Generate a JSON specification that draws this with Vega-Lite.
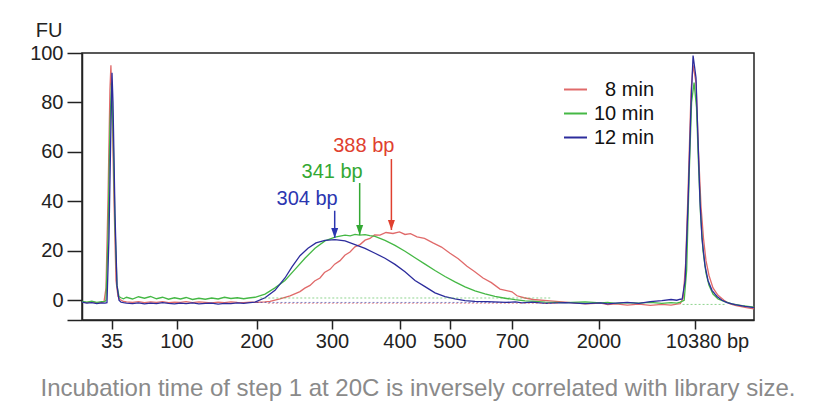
{
  "$schema": "https://vega.github.io/schema/vega-lite/v6.json",
  "width": 672,
  "height": 267,
  "autosize": "none",
  "padding": {"left": 82, "top": 53, "right": 76, "bottom": 97},
  "background": "white",
  "config": {
    "font": "Liberation Sans",
    "view": {"stroke": "#222", "strokeWidth": 1.5},
    "axis": {
      "labelFont": "Liberation Sans",
      "labelFontSize": 20,
      "labelColor": "#222",
      "tickColor": "#222",
      "tickWidth": 1.5,
      "domainColor": "#222",
      "domainWidth": 1.5,
      "grid": false
    }
  },
  "title": {
    "text": "Incubation time of step 1 at 20C is inversely correlated with library size.",
    "orient": "bottom",
    "anchor": "middle",
    "fontSize": 24,
    "fontWeight": "normal",
    "color": "#8a8a8a",
    "font": "Liberation Sans",
    "offset": 26
  },
  "resolve": {"scale": {"color": "independent"}},
  "datasets": {
    "traces": [
      {"s":"8 min","bp":20,"fu":-0.8},{"s":"8 min","bp":22.5,"fu":-1.0},{"s":"8 min","bp":25,"fu":-0.7},{"s":"8 min","bp":27.5,"fu":-1.1},{"s":"8 min","bp":30,"fu":-0.9},
      {"s":"8 min","bp":31.2,"fu":-0.6},{"s":"8 min","bp":32.2,"fu":5},{"s":"8 min","bp":33.2,"fu":40},{"s":"8 min","bp":34.2,"fu":85},{"s":"8 min","bp":34.7,"fu":95},{"s":"8 min","bp":35.5,"fu":80},{"s":"8 min","bp":37.5,"fu":40},{"s":"8 min","bp":39.5,"fu":8},{"s":"8 min","bp":41.5,"fu":1.5},{"s":"8 min","bp":43.5,"fu":0.3},
      {"s":"8 min","bp":47,"fu":-0.5},{"s":"8 min","bp":50,"fu":-0.7},{"s":"8 min","bp":56,"fu":-0.9},{"s":"8 min","bp":62,"fu":-0.6},{"s":"8 min","bp":68,"fu":-1.0},{"s":"8 min","bp":74,"fu":-0.7},{"s":"8 min","bp":80,"fu":-0.9},{"s":"8 min","bp":86,"fu":-0.6},{"s":"8 min","bp":92,"fu":-1.0},{"s":"8 min","bp":98,"fu":-0.8},{"s":"8 min","bp":105,"fu":-0.9},{"s":"8 min","bp":112,"fu":-0.6},{"s":"8 min","bp":120,"fu":-1.0},{"s":"8 min","bp":128,"fu":-0.7},{"s":"8 min","bp":136,"fu":-0.9},{"s":"8 min","bp":144,"fu":-1.1},{"s":"8 min","bp":152,"fu":-0.8},{"s":"8 min","bp":160,"fu":-1.0},{"s":"8 min","bp":168,"fu":-0.7},{"s":"8 min","bp":176,"fu":-0.9},{"s":"8 min","bp":184,"fu":-1.0},{"s":"8 min","bp":192,"fu":-0.8},{"s":"8 min","bp":200,"fu":-0.9},{"s":"8 min","bp":211,"fu":-0.7},
      {"s":"8 min","bp":217.9,"fu":-0.5},{"s":"8 min","bp":231.1,"fu":0.5},{"s":"8 min","bp":244.4,"fu":1.8},{"s":"8 min","bp":257.6,"fu":3.5},{"s":"8 min","bp":264,"fu":4.9},{"s":"8 min","bp":270.9,"fu":6},{"s":"8 min","bp":277,"fu":7.8},{"s":"8 min","bp":284.1,"fu":9},{"s":"8 min","bp":290,"fu":11.2},{"s":"8 min","bp":297.4,"fu":12.5},{"s":"8 min","bp":304,"fu":14.6},{"s":"8 min","bp":311.9,"fu":16},{"s":"8 min","bp":319,"fu":18.2},{"s":"8 min","bp":326.7,"fu":19.5},{"s":"8 min","bp":334,"fu":21.6},{"s":"8 min","bp":341.5,"fu":22.5},{"s":"8 min","bp":349,"fu":24.3},{"s":"8 min","bp":356.3,"fu":25},{"s":"8 min","bp":363,"fu":26.4},{"s":"8 min","bp":371.1,"fu":26.3},{"s":"8 min","bp":380,"fu":27.4},{"s":"8 min","bp":390.4,"fu":27.0},{"s":"8 min","bp":400,"fu":27.6},{"s":"8 min","bp":411,"fu":26.6},{"s":"8 min","bp":422,"fu":26.9},{"s":"8 min","bp":435,"fu":25.6},{"s":"8 min","bp":450,"fu":25.0},{"s":"8 min","bp":467,"fu":23.2},{"s":"8 min","bp":484,"fu":21.5},{"s":"8 min","bp":501.6,"fu":19},{"s":"8 min","bp":528,"fu":16.8},{"s":"8 min","bp":556,"fu":13.7},{"s":"8 min","bp":580,"fu":11.6},{"s":"8 min","bp":607.2,"fu":9},{"s":"8 min","bp":634,"fu":7.1},{"s":"8 min","bp":661.6,"fu":4.5},{"s":"8 min","bp":700,"fu":3.4},{"s":"8 min","bp":775,"fu":1.8},{"s":"8 min","bp":880,"fu":1.0},{"s":"8 min","bp":1016,"fu":0.3},{"s":"8 min","bp":1271,"fu":-0.3},
      {"s":"8 min","bp":1500,"fu":-0.8},{"s":"8 min","bp":1800,"fu":-1.5},{"s":"8 min","bp":2200,"fu":-1.2},{"s":"8 min","bp":2800,"fu":-1.8},{"s":"8 min","bp":3500,"fu":-1.5},{"s":"8 min","bp":4500,"fu":-2.0},{"s":"8 min","bp":5500,"fu":-1.6},{"s":"8 min","bp":6500,"fu":-2.1},{"s":"8 min","bp":7500,"fu":-1.7},{"s":"8 min","bp":8300,"fu":-2.0},{"s":"8 min","bp":8800,"fu":-1.6},{"s":"8 min","bp":9100,"fu":-1.4},
      {"s":"8 min","bp":9353,"fu":1},{"s":"8 min","bp":9568,"fu":15},{"s":"8 min","bp":9783,"fu":45},{"s":"8 min","bp":10041,"fu":85},{"s":"8 min","bp":10213,"fu":95},{"s":"8 min","bp":10459,"fu":88},{"s":"8 min","bp":10654,"fu":60},{"s":"8 min","bp":10850,"fu":38},{"s":"8 min","bp":11045,"fu":25},{"s":"8 min","bp":11241,"fu":16},{"s":"8 min","bp":11476,"fu":10},{"s":"8 min","bp":11789,"fu":5},{"s":"8 min","bp":12182,"fu":2},{"s":"8 min","bp":12651,"fu":0},{"s":"8 min","bp":13121,"fu":-1.5},{"s":"8 min","bp":13600,"fu":-2.2},{"s":"8 min","bp":13904,"fu":-2.5},{"s":"8 min","bp":14400,"fu":-3.0},{"s":"8 min","bp":15000,"fu":-3.5},

      {"s":"10 min","bp":20,"fu":-0.5},{"s":"10 min","bp":22.5,"fu":-0.8},{"s":"10 min","bp":25,"fu":-0.4},{"s":"10 min","bp":27.5,"fu":-0.9},{"s":"10 min","bp":30,"fu":-0.6},{"s":"10 min","bp":31.7,"fu":-0.5},
      {"s":"10 min","bp":32.2,"fu":0},{"s":"10 min","bp":33.2,"fu":25},{"s":"10 min","bp":34.2,"fu":70},{"s":"10 min","bp":35,"fu":88},{"s":"10 min","bp":36.5,"fu":70},{"s":"10 min","bp":38.5,"fu":30},{"s":"10 min","bp":40.5,"fu":6},{"s":"10 min","bp":42.5,"fu":1.5},{"s":"10 min","bp":44.5,"fu":1.0},
      {"s":"10 min","bp":47,"fu":0.6},{"s":"10 min","bp":50,"fu":1.2},{"s":"10 min","bp":56,"fu":0.5},{"s":"10 min","bp":62,"fu":1.4},{"s":"10 min","bp":68,"fu":0.8},{"s":"10 min","bp":74,"fu":1.5},{"s":"10 min","bp":80,"fu":0.6},{"s":"10 min","bp":86,"fu":1.2},{"s":"10 min","bp":92,"fu":0.4},{"s":"10 min","bp":98,"fu":1.0},{"s":"10 min","bp":105,"fu":0.5},{"s":"10 min","bp":112,"fu":1.1},{"s":"10 min","bp":120,"fu":0.3},{"s":"10 min","bp":128,"fu":0.8},{"s":"10 min","bp":136,"fu":0.4},{"s":"10 min","bp":144,"fu":0.9},{"s":"10 min","bp":152,"fu":0.5},{"s":"10 min","bp":160,"fu":1.2},{"s":"10 min","bp":168,"fu":0.7},{"s":"10 min","bp":176,"fu":1.0},{"s":"10 min","bp":184,"fu":0.6},{"s":"10 min","bp":190,"fu":0.9},
      {"s":"10 min","bp":198.1,"fu":1.2},{"s":"10 min","bp":211.3,"fu":2.5},{"s":"10 min","bp":224.5,"fu":5},{"s":"10 min","bp":237.7,"fu":8},{"s":"10 min","bp":251,"fu":12.5},{"s":"10 min","bp":264.2,"fu":17},{"s":"10 min","bp":277.5,"fu":21},{"s":"10 min","bp":290.7,"fu":24},{"s":"10 min","bp":304.4,"fu":25.5},{"s":"10 min","bp":319.3,"fu":26.3},{"s":"10 min","bp":327,"fu":26.0},{"s":"10 min","bp":334.1,"fu":26.6},{"s":"10 min","bp":341,"fu":26.3},{"s":"10 min","bp":348.9,"fu":26.5},{"s":"10 min","bp":356,"fu":26.1},{"s":"10 min","bp":363.7,"fu":25.8},{"s":"10 min","bp":378.5,"fu":24.2},{"s":"10 min","bp":393.3,"fu":22.2},{"s":"10 min","bp":411,"fu":19.8},{"s":"10 min","bp":431,"fu":17.2},{"s":"10 min","bp":451,"fu":14.6},{"s":"10 min","bp":471,"fu":12},{"s":"10 min","bp":491,"fu":9.6},{"s":"10 min","bp":517.6,"fu":7.4},{"s":"10 min","bp":549.6,"fu":5.4},{"s":"10 min","bp":581.6,"fu":3.8},{"s":"10 min","bp":613.6,"fu":2.6},{"s":"10 min","bp":645.6,"fu":1.6},{"s":"10 min","bp":677.6,"fu":0.8},{"s":"10 min","bp":745,"fu":0.2},{"s":"10 min","bp":895,"fu":-0.3},
      {"s":"10 min","bp":1000,"fu":-0.4},{"s":"10 min","bp":1200,"fu":-0.8},{"s":"10 min","bp":1500,"fu":-1.0},{"s":"10 min","bp":1800,"fu":-0.7},{"s":"10 min","bp":2200,"fu":-1.1},{"s":"10 min","bp":2800,"fu":-0.9},{"s":"10 min","bp":3500,"fu":-1.3},{"s":"10 min","bp":4500,"fu":-1.0},{"s":"10 min","bp":5500,"fu":-1.2},{"s":"10 min","bp":6500,"fu":-0.9},{"s":"10 min","bp":7500,"fu":-1.3},{"s":"10 min","bp":8300,"fu":-1.0},{"s":"10 min","bp":8800,"fu":-1.2},{"s":"10 min","bp":9100,"fu":-0.8},
      {"s":"10 min","bp":9439,"fu":0},{"s":"10 min","bp":9654,"fu":12},{"s":"10 min","bp":9869,"fu":50},{"s":"10 min","bp":10084,"fu":80},{"s":"10 min","bp":10300,"fu":88},{"s":"10 min","bp":10498,"fu":78},{"s":"10 min","bp":10654,"fu":55},{"s":"10 min","bp":10811,"fu":35},{"s":"10 min","bp":11006,"fu":20},{"s":"10 min","bp":11241,"fu":11},{"s":"10 min","bp":11476,"fu":6},{"s":"10 min","bp":11789,"fu":2.5},{"s":"10 min","bp":12182,"fu":0.5},{"s":"10 min","bp":12651,"fu":-0.5},{"s":"10 min","bp":13278,"fu":-1.5},{"s":"10 min","bp":14061,"fu":-2.2},{"s":"10 min","bp":15000,"fu":-2.8},

      {"s":"12 min","bp":20,"fu":-0.8},{"s":"12 min","bp":22.5,"fu":-1.2},{"s":"12 min","bp":25,"fu":-1.0},{"s":"12 min","bp":27.5,"fu":-1.4},{"s":"12 min","bp":30,"fu":-1.1},{"s":"12 min","bp":31.7,"fu":-1.2},
      {"s":"12 min","bp":32.7,"fu":-1},{"s":"12 min","bp":33.7,"fu":25},{"s":"12 min","bp":34.7,"fu":70},{"s":"12 min","bp":35.5,"fu":92},{"s":"12 min","bp":36.5,"fu":80},{"s":"12 min","bp":38.5,"fu":35},{"s":"12 min","bp":40.5,"fu":6},{"s":"12 min","bp":42.5,"fu":0},{"s":"12 min","bp":44.5,"fu":-0.8},
      {"s":"12 min","bp":47,"fu":-1.0},{"s":"12 min","bp":50,"fu":-1.2},{"s":"12 min","bp":56,"fu":-1.4},{"s":"12 min","bp":62,"fu":-1.1},{"s":"12 min","bp":68,"fu":-1.5},{"s":"12 min","bp":74,"fu":-1.2},{"s":"12 min","bp":80,"fu":-1.4},{"s":"12 min","bp":86,"fu":-1.0},{"s":"12 min","bp":92,"fu":-1.3},{"s":"12 min","bp":98,"fu":-1.5},{"s":"12 min","bp":105,"fu":-1.2},{"s":"12 min","bp":112,"fu":-1.4},{"s":"12 min","bp":120,"fu":-1.1},{"s":"12 min","bp":128,"fu":-1.5},{"s":"12 min","bp":136,"fu":-1.3},{"s":"12 min","bp":144,"fu":-1.2},{"s":"12 min","bp":152,"fu":-1.6},{"s":"12 min","bp":160,"fu":-1.3},{"s":"12 min","bp":168,"fu":-1.4},{"s":"12 min","bp":176,"fu":-1.1},{"s":"12 min","bp":184,"fu":-1.3},{"s":"12 min","bp":192,"fu":-1.0},
      {"s":"12 min","bp":198.1,"fu":-0.8},{"s":"12 min","bp":211.3,"fu":1},{"s":"12 min","bp":224.5,"fu":4},{"s":"12 min","bp":237.7,"fu":9},{"s":"12 min","bp":247,"fu":13.5},{"s":"12 min","bp":257.6,"fu":18},{"s":"12 min","bp":268.2,"fu":21},{"s":"12 min","bp":278.8,"fu":23.2},{"s":"12 min","bp":290.7,"fu":24.2},{"s":"12 min","bp":304.4,"fu":24.5},{"s":"12 min","bp":319.3,"fu":24},{"s":"12 min","bp":334.1,"fu":22.5},{"s":"12 min","bp":348.9,"fu":21},{"s":"12 min","bp":363.7,"fu":19},{"s":"12 min","bp":378.5,"fu":17},{"s":"12 min","bp":393.3,"fu":14.5},{"s":"12 min","bp":411,"fu":11.5},{"s":"12 min","bp":431,"fu":8},{"s":"12 min","bp":451,"fu":5.5},{"s":"12 min","bp":471,"fu":3},{"s":"12 min","bp":491,"fu":1.5},{"s":"12 min","bp":517.6,"fu":0.5},{"s":"12 min","bp":549.6,"fu":-0.2},{"s":"12 min","bp":581.6,"fu":-0.5},
      {"s":"12 min","bp":620,"fu":-0.6},{"s":"12 min","bp":680,"fu":-0.9},{"s":"12 min","bp":750,"fu":-0.7},{"s":"12 min","bp":850,"fu":-1.1},{"s":"12 min","bp":1000,"fu":-0.8},{"s":"12 min","bp":1200,"fu":-1.3},{"s":"12 min","bp":1500,"fu":-1.0},{"s":"12 min","bp":1800,"fu":-1.4},{"s":"12 min","bp":2200,"fu":-1.1},{"s":"12 min","bp":2800,"fu":-1.5},{"s":"12 min","bp":3500,"fu":-1.2},{"s":"12 min","bp":4500,"fu":-0.9},{"s":"12 min","bp":5500,"fu":-1.3},{"s":"12 min","bp":6500,"fu":-0.6},{"s":"12 min","bp":7500,"fu":-0.2},{"s":"12 min","bp":8300,"fu":0.3},{"s":"12 min","bp":8800,"fu":0.0},{"s":"12 min","bp":9100,"fu":0.4},
      {"s":"12 min","bp":9267,"fu":0.5},{"s":"12 min","bp":9525,"fu":8},{"s":"12 min","bp":9783,"fu":40},{"s":"12 min","bp":10041,"fu":80},{"s":"12 min","bp":10213,"fu":99},{"s":"12 min","bp":10459,"fu":90},{"s":"12 min","bp":10615,"fu":65},{"s":"12 min","bp":10772,"fu":40},{"s":"12 min","bp":10928,"fu":25},{"s":"12 min","bp":11163,"fu":14},{"s":"12 min","bp":11398,"fu":8},{"s":"12 min","bp":11711,"fu":4},{"s":"12 min","bp":12103,"fu":1.5},{"s":"12 min","bp":12495,"fu":0},{"s":"12 min","bp":12886,"fu":-1},{"s":"12 min","bp":13513,"fu":-1.8},{"s":"12 min","bp":14296,"fu":-2.5},{"s":"12 min","bp":15000,"fu":-3}
    ],
    "dots": [
      {"s":"10 min","bp":205,"bp2":1300,"fu":0.9},
      {"s":"8 min","bp":215,"bp2":1400,"fu":-1.3},
      {"s":"12 min","bp":200,"bp2":700,"fu":-0.9},
      {"s":"10 min","bp":9300,"bp2":12800,"fu":-1.7}
    ],
    "ann": [
      {"s":"12 min","bp":304,"top":36.2,"tip":25.2,"ty":38.6,"label":"304 bp"},
      {"s":"10 min","bp":341,"top":47.4,"tip":26.4,"ty":49.4,"label":"341 bp"},
      {"s":"8 min","bp":388,"top":57.1,"tip":28.4,"ty":60.0,"label":"388 bp"}
    ]
  },
  "layer": [
    {
      "data": {"name": "traces"},
      "mark": {"type": "line", "strokeWidth": 1.3},
      "encoding": {
        "x": {
          "field": "bp",
          "type": "quantitative",
          "scale": {
            "type": "linear",
            "domain": [20, 35, 100, 200, 300, 400, 500, 700, 2000, 10380, 15000],
            "range": [0, 29.5, 94.5, 174.5, 250, 317.5, 367.5, 430, 516.5, 613, 672],
            "zero": false,
            "nice": false
          },
          "axis": {
            "values": [35, 100, 200, 300, 400, 500, 700, 2000, 10380],
            "format": "d",
            "labelExpr": "datum.value == 10380 ? '10380 bp' : datum.label",
            "labelOffset": {"condition": {"test": "datum.value == 10380", "value": 12}, "value": 0},
            "title": null,
            "tickSize": 9,
            "labelPadding": 2,
            "labelFlush": false,
            "labelOverlap": false,
            "labelBound": false
          }
        },
        "y": {
          "field": "fu",
          "type": "quantitative",
          "scale": {"domain": [-8, 100], "nice": false, "zero": false},
          "axis": {
            "values": [-8, 0, 20, 40, 60, 80, 100],
            "labelExpr": "datum.value < 0 ? '' : datum.label",
            "tickSize": 15,
            "labelPadding": 4,
            "title": "FU",
            "titleAngle": 0,
            "titleAlign": "right",
            "titleBaseline": "middle",
            "titleX": -20,
            "titleY": -23,
            "titleFontSize": 20,
            "titleFontWeight": "normal",
            "titleColor": "#222",
            "titleFont": "Liberation Sans"
          }
        },
        "color": {
          "field": "s",
          "type": "nominal",
          "sort": null,
          "scale": {"domain": ["8 min", "10 min", "12 min"], "range": ["#e06a6a", "#45b845", "#2c2c9c"]},
          "legend": {
            "orient": "none",
            "legendX": 481,
            "legendY": 24,
            "padding": 0,
            "title": null,
            "symbolType": "stroke",
            "symbolSize": 529,
            "symbolStrokeWidth": 2,
            "labelFontSize": 20,
            "labelColor": "#111",
            "labelFont": "Liberation Sans",
            "labelAlign": "right",
            "labelOffset": 66,
            "rowPadding": 1
          }
        }
      }
    },
    {
      "data": {"name": "dots"},
      "mark": {"type": "rule", "strokeDash": [2, 2], "strokeWidth": 1, "opacity": 0.6},
      "encoding": {
        "x": {"field": "bp", "type": "quantitative"},
        "x2": {"field": "bp2"},
        "y": {"field": "fu", "type": "quantitative"},
        "color": {
          "field": "s",
          "type": "nominal",
          "scale": {"domain": ["8 min", "10 min", "12 min"], "range": ["#e06a6a", "#45b845", "#2c2c9c"]},
          "legend": null
        }
      }
    },
    {
      "data": {"name": "ann"},
      "encoding": {
        "x": {"field": "bp", "type": "quantitative"},
        "color": {
          "field": "s",
          "type": "nominal",
          "scale": {"domain": ["8 min", "10 min", "12 min"], "range": ["#e0402f", "#33a833", "#2b36b0"]},
          "legend": null
        }
      },
      "layer": [
        {
          "mark": {"type": "rule", "strokeWidth": 1.5},
          "encoding": {
            "y": {"field": "top", "type": "quantitative"},
            "y2": {"field": "tip"}
          }
        },
        {
          "mark": {"type": "point", "shape": "M-0.7,-2L0.7,-2L0,0Z", "filled": true, "size": 100, "opacity": 1},
          "encoding": {
            "y": {"field": "tip", "type": "quantitative"}
          }
        },
        {
          "mark": {"type": "text", "align": "right", "baseline": "alphabetic", "dx": 3, "fontSize": 20, "font": "Liberation Sans"},
          "encoding": {
            "y": {"field": "ty", "type": "quantitative"},
            "text": {"field": "label"}
          }
        }
      ]
    }
  ]
}
